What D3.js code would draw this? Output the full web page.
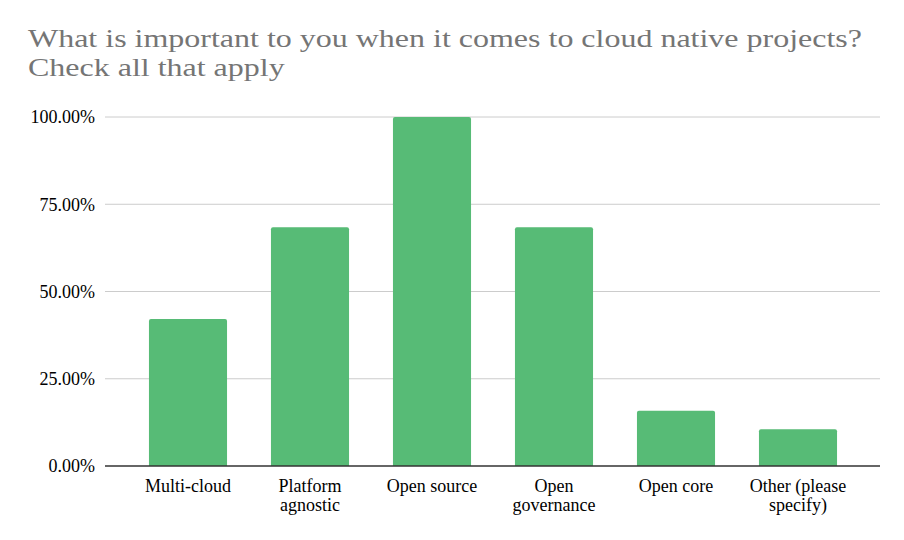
<!DOCTYPE html>
<html>
<head>
<title>Cloud native projects</title>
<script src="https://cdn.jsdelivr.net/npm/d3@7"></script>
<style>
  body { margin: 0; background: #fff; }
</style>
</head>
<body>
<svg width="904" height="540"></svg>
<script>
var categories = [["Multi-cloud"], ["Platform", "agnostic"], ["Open source"], ["Open", "governance"], ["Open core"], ["Other (please", "specify)"]];
var values = [0.421, 0.684, 1.0, 0.684, 0.158, 0.105];
var yTicks = [0, 0.25, 0.5, 0.75, 1.0];
var titleLines = ["What is important to you when it comes to cloud native projects?", "Check all that apply"];

var serif = "'Liberation Serif', 'Times New Roman', Times, Tinos, 'DejaVu Serif', 'Noto Serif', serif";
var svg = d3.select("svg").attr("font-family", serif);

var x = d3.scaleBand()
    .domain(d3.range(categories.length))
    .range([127, 859])
    .paddingInner(0.36)
    .paddingOuter(0.18);

var y = d3.scaleLinear().domain([0, 1]).range([466, 117]);

// title (reference glyphs are a bit wider than the font, so stretch to fit)
var title = svg.append("g").selectAll("text")
  .data(titleLines)
  .enter().append("text")
    .attr("x", 28)
    .attr("y", function(d, i) { return 47 + i * 29; })
    .attr("fill", "#757575")
    .style("font-size", "26px")
    .text(function(d) { return d; });

var stretch = 834 / title.node().getComputedTextLength();
title.each(function() {
  d3.select(this)
    .attr("textLength", this.getComputedTextLength() * stretch)
    .attr("lengthAdjust", "spacingAndGlyphs");
});

// gridlines + tick labels
var grid = svg.append("g");
grid.selectAll("line")
  .data(yTicks.filter(function(d) { return d > 0; }))
  .enter().append("line")
    .attr("x1", 105).attr("x2", 880)
    .attr("y1", function(d) { return y(d); })
    .attr("y2", function(d) { return y(d); })
    .attr("stroke", "#cccccc")
    .attr("stroke-width", 1);

grid.selectAll("text")
  .data(yTicks)
  .enter().append("text")
    .attr("x", 95)
    .attr("y", function(d) { return y(d); })
    .attr("dy", "0.35em")
    .attr("text-anchor", "end")
    .attr("fill", "#000")
    .style("font-size", "18px")
    .text(function(d) { return d3.format(".2%")(d); });

// bars
svg.append("g").selectAll("path")
  .data(values)
  .enter().append("path")
    .attr("fill", "#57bb76")
    .attr("d", function(d, i) {
      var x0 = x(i), w = x.bandwidth(), top = y(d), bot = y(0), r = 2;
      return "M" + x0 + "," + bot + "V" + (top + r) + "Q" + x0 + "," + top + " " + (x0 + r) + "," + top +
        "H" + (x0 + w - r) + "Q" + (x0 + w) + "," + top + " " + (x0 + w) + "," + (top + r) + "V" + bot + "Z";
    });

// baseline
svg.append("line")
    .attr("x1", 105).attr("x2", 880)
    .attr("y1", y(0)).attr("y2", y(0))
    .attr("stroke", "#333")
    .attr("stroke-width", 1.5);

// category labels
var labels = svg.append("g").selectAll("text")
  .data(categories)
  .enter().append("text")
    .attr("text-anchor", "middle")
    .attr("fill", "#000")
    .style("font-size", "18px")
    .attr("transform", function(d, i) { return "translate(" + (x(i) + x.bandwidth() / 2) + ",492)"; });

labels.selectAll("tspan")
  .data(function(d) { return d; })
  .enter().append("tspan")
    .attr("x", 0)
    .attr("y", function(d, i) { return i * 19; })
    .text(function(d) { return d; });
</script>
</body>
</html>
